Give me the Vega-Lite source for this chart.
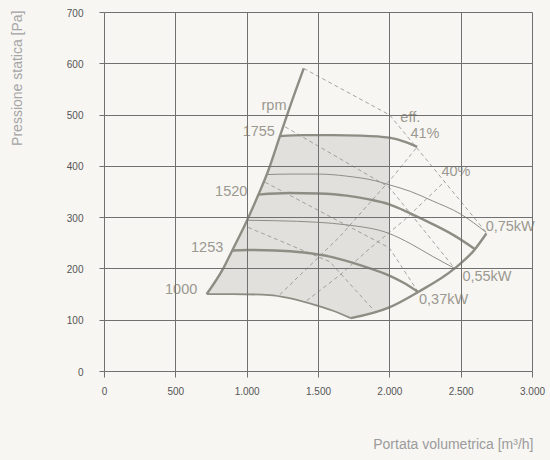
{
  "$schema": "https://vega.github.io/schema/vega-lite/v6.json",
  "width": 428,
  "height": 359,
  "autosize": {"type": "none"},
  "padding": {"left": 104, "top": 12, "right": 18, "bottom": 89},
  "background": "#f7f6f3",
  "config": {"view": {"stroke": null}, "font": "Liberation Sans"},
  "datasets": {
    "shade": [
      {"q": 720, "p": 150, "p2": 150},
      {"q": 836, "p": 200, "p2": 150},
      {"q": 899, "p": 235, "p2": 150},
      {"q": 1000, "p": 292, "p2": 150},
      {"q": 1081, "p": 343, "p2": 149},
      {"q": 1153, "p": 392, "p2": 148},
      {"q": 1233, "p": 458, "p2": 146},
      {"q": 1400, "p": 460, "p2": 138},
      {"q": 1500, "p": 460, "p2": 127},
      {"q": 1600, "p": 460, "p2": 118},
      {"q": 1730, "p": 459, "p2": 103},
      {"q": 1800, "p": 459, "p2": 108},
      {"q": 2000, "p": 455, "p2": 124}
    ],
    "thick": [
      {"s": "L", "q": 720, "p": 150}, {"s": "L", "q": 836, "p": 200}, {"s": "L", "q": 899, "p": 235},
      {"s": "L", "q": 1000, "p": 292}, {"s": "L", "q": 1081, "p": 343}, {"s": "L", "q": 1153, "p": 392},
      {"s": "L", "q": 1233, "p": 458}, {"s": "L", "q": 1303, "p": 515}, {"s": "L", "q": 1400, "p": 590},
      {"s": "R", "q": 1730, "p": 103}, {"s": "R", "q": 2000, "p": 124}, {"s": "R", "q": 2202, "p": 154},
      {"s": "R", "q": 2458, "p": 200}, {"s": "R", "q": 2599, "p": 237}, {"s": "R", "q": 2680, "p": 268},
      {"s": "r1755", "q": 1233, "p": 458}, {"s": "r1755", "q": 1400, "p": 460}, {"s": "r1755", "q": 1600, "p": 460},
      {"s": "r1755", "q": 1800, "p": 459}, {"s": "r1755", "q": 2000, "p": 455}, {"s": "r1755", "q": 2120, "p": 446},
      {"s": "r1755", "q": 2195, "p": 437},
      {"s": "r1520", "q": 1081, "p": 344}, {"s": "r1520", "q": 1300, "p": 347}, {"s": "r1520", "q": 1500, "p": 346},
      {"s": "r1520", "q": 1700, "p": 342}, {"s": "r1520", "q": 1850, "p": 335}, {"s": "r1520", "q": 2000, "p": 325},
      {"s": "r1520", "q": 2150, "p": 307}, {"s": "r1520", "q": 2300, "p": 287}, {"s": "r1520", "q": 2450, "p": 265},
      {"s": "r1520", "q": 2599, "p": 238},
      {"s": "r1253", "q": 899, "p": 235}, {"s": "r1253", "q": 1000, "p": 236}, {"s": "r1253", "q": 1200, "p": 235},
      {"s": "r1253", "q": 1400, "p": 231}, {"s": "r1253", "q": 1600, "p": 222}, {"s": "r1253", "q": 1800, "p": 206},
      {"s": "r1253", "q": 2000, "p": 186}, {"s": "r1253", "q": 2100, "p": 172}, {"s": "r1253", "q": 2202, "p": 154}
    ],
    "mid": [
      {"s": "r1000", "q": 720, "p": 150}, {"s": "r1000", "q": 900, "p": 150}, {"s": "r1000", "q": 1163, "p": 148},
      {"s": "r1000", "q": 1300, "p": 142}, {"s": "r1000", "q": 1500, "p": 127}, {"s": "r1000", "q": 1600, "p": 118},
      {"s": "r1000", "q": 1730, "p": 103}
    ],
    "thin": [
      {"s": "tA", "q": 1140, "p": 383}, {"s": "tA", "q": 1300, "p": 384}, {"s": "tA", "q": 1500, "p": 384},
      {"s": "tA", "q": 1700, "p": 380}, {"s": "tA", "q": 1900, "p": 371}, {"s": "tA", "q": 2000, "p": 363},
      {"s": "tA", "q": 2150, "p": 350}, {"s": "tA", "q": 2300, "p": 332}, {"s": "tA", "q": 2500, "p": 306},
      {"s": "tA", "q": 2680, "p": 270},
      {"s": "tB", "q": 1003, "p": 294}, {"s": "tB", "q": 1200, "p": 293}, {"s": "tB", "q": 1500, "p": 290},
      {"s": "tB", "q": 1700, "p": 285}, {"s": "tB", "q": 2000, "p": 268}, {"s": "tB", "q": 2150, "p": 248},
      {"s": "tB", "q": 2300, "p": 224}, {"s": "tB", "q": 2458, "p": 200}
    ],
    "dash": [
      {"s": "E1", "q": 1400, "p": 590}, {"s": "E1", "q": 2003, "p": 499}, {"s": "E1", "q": 2680, "p": 270},
      {"s": "E2", "q": 1270, "p": 476}, {"s": "E2", "q": 2000, "p": 358}, {"s": "E2", "q": 2458, "p": 200},
      {"s": "E3", "q": 1130, "p": 368}, {"s": "E3", "q": 2000, "p": 240}, {"s": "E3", "q": 2202, "p": 154},
      {"s": "E4", "q": 1011, "p": 280}, {"s": "E4", "q": 1583, "p": 213}, {"s": "E4", "q": 1886, "p": 120},
      {"s": "A1", "q": 1233, "p": 149}, {"s": "A1", "q": 1653, "p": 262}, {"s": "A1", "q": 2026, "p": 379},
      {"s": "A1", "q": 2195, "p": 437},
      {"s": "A2", "q": 1420, "p": 137}, {"s": "A2", "q": 1653, "p": 187}, {"s": "A2", "q": 1863, "p": 239},
      {"s": "A2", "q": 2100, "p": 293}, {"s": "A2", "q": 2390, "p": 370}
    ],
    "labR": [
      {"t": "rpm", "q": 1279, "p": 509},
      {"t": "1755", "q": 1198, "p": 458},
      {"t": "1520", "q": 1005, "p": 342},
      {"t": "1253", "q": 836, "p": 233},
      {"t": "1000", "q": 654, "p": 149.5}
    ],
    "labL": [
      {"t": "eff.", "q": 2077, "p": 486},
      {"t": "41%", "q": 2148, "p": 453.5},
      {"t": "40%", "q": 2365, "p": 380},
      {"t": "0,75kW", "q": 2675, "p": 273.5},
      {"t": "0,55kW", "q": 2512, "p": 176},
      {"t": "0,37kW", "q": 2208, "p": 130.6}
    ]
  },
  "encoding": {
    "x": {
      "field": "q", "type": "quantitative",
      "scale": {"domain": [0, 3000], "nice": false, "zero": false},
      "axis": {
        "values": [0, 500, 1000, 1500, 2000, 2500, 3000],
        "grid": true, "gridColor": "#707070", "gridWidth": 1, "gridOpacity": 1,
        "domain": false, "tickColor": "#707070", "tickSize": 6, "tickWidth": 1,
        "labelFontSize": 10, "labelColor": "#555555", "labelPadding": 9,
        "labelFlush": false, "labelOverlap": false,
        "labelExpr": "replace(format(datum.value, ','), ',', '.')",
        "title": "Portata volumetrica [m³/h]", "titleFontSize": 14, "titleFontWeight": "normal",
        "titleColor": "#9b9b9b", "titleAlign": "right", "titleAnchor": null,
        "titleX": 429, "titleY": 73, "titleBaseline": "middle",
        "zindex": 1
      }
    },
    "y": {
      "field": "p", "type": "quantitative",
      "scale": {"domain": [0, 700], "nice": false},
      "axis": {
        "values": [0, 100, 200, 300, 400, 500, 600, 700],
        "grid": true, "gridColor": "#707070", "gridWidth": 1, "gridOpacity": 1,
        "domain": false, "tickColor": "#707070", "tickSize": 5, "tickWidth": 1,
        "labelFontSize": 10, "labelColor": "#555555", "labelPadding": 16, "labelOffset": 1,
        "labelFlush": false, "labelOverlap": false,
        "title": "Pressione statica [Pa]", "titleFontSize": 14, "titleFontWeight": "normal",
        "titleColor": "#a5a5a5", "titleAngle": -90, "titleAlign": "right", "titleAnchor": null,
        "titleX": -87, "titleY": -2, "titleBaseline": "middle",
        "zindex": 1
      }
    }
  },
  "layer": [
    {
      "data": {"name": "shade"},
      "mark": {"type": "area", "color": "#e1e0dc", "interpolate": "linear", "opacity": 1},
      "encoding": {"y2": {"field": "p2"}}
    },
    {
      "data": {"name": "dash"},
      "mark": {"type": "line", "color": "#8f8f8f", "strokeWidth": 0.8, "strokeDash": [4, 3], "interpolate": "linear"},
      "encoding": {"detail": {"field": "s"}}
    },
    {
      "data": {"name": "thin"},
      "mark": {"type": "line", "color": "#8e8d85", "strokeWidth": 1, "interpolate": "monotone"},
      "encoding": {"detail": {"field": "s"}}
    },
    {
      "data": {"name": "mid"},
      "mark": {"type": "line", "color": "#8e8d84", "strokeWidth": 1.8, "interpolate": "monotone"},
      "encoding": {"detail": {"field": "s"}}
    },
    {
      "data": {"name": "thick"},
      "mark": {"type": "line", "color": "#8e8d84", "strokeWidth": 2.4, "interpolate": "monotone"},
      "encoding": {"detail": {"field": "s"}}
    },
    {
      "data": {"name": "labR"},
      "mark": {"type": "text", "align": "right", "baseline": "alphabetic", "fontSize": 14.5, "color": "#9b9990"},
      "encoding": {"text": {"field": "t"}}
    },
    {
      "data": {"name": "labL"},
      "mark": {"type": "text", "align": "left", "baseline": "alphabetic", "fontSize": 14.5, "color": "#9b9990"},
      "encoding": {"text": {"field": "t"}}
    }
  ]
}
